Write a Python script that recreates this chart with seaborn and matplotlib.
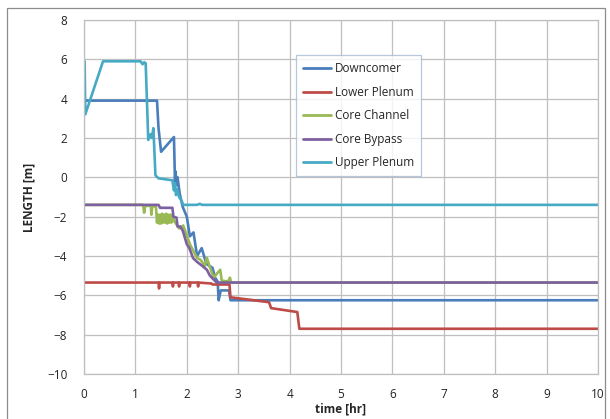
import matplotlib
matplotlib.use("Agg")
import numpy as np
import pandas as pd
import seaborn as sns
from matplotlib import pyplot as plt
from matplotlib.patches import Rectangle

# values (time in hr, length in m)
series_names = ['Downcomer', 'Lower Plenum', 'Core Channel', 'Core Bypass', 'Upper Plenum']
colors = ['#4A7EBB', '#BE4B48', '#98B954', '#7D60A0', '#46AAC5']

dc_t = [0, 1.42, 1.45, 1.5, 1.75, 1.77, 1.78, 1.8, 1.82, 1.86, 1.92, 2.0, 2.06, 2.13, 2.2,
        2.29, 2.38, 2.5, 2.55, 2.6, 2.62, 2.66, 2.82, 2.85, 10]
dc_y = [3.9, 3.9, 2.5, 1.3, 2.05, -0.2, 0.3, -0.4, 0.0, -0.8, -1.5, -2.0, -3.0, -2.8, -4.0,
        -3.6, -4.4, -4.6, -5.1, -5.3, -6.25, -5.75, -5.75, -6.25, -6.25]

lp_t = [0, 1.45, 1.46, 1.47, 1.72, 1.73, 1.74, 1.84, 1.85, 1.86, 2.05, 2.06, 2.07, 2.21, 2.22,
        2.23, 2.48, 2.5, 2.83, 2.85, 3.6, 3.64, 4.15, 4.19, 10]
lp_y = [-5.35, -5.35, -5.65, -5.35, -5.35, -5.55, -5.35, -5.35, -5.55, -5.35, -5.35, -5.55,
        -5.35, -5.35, -5.55, -5.35, -5.4, -5.45, -5.45, -6.1, -6.35, -6.65, -6.85, -7.7, -7.7]

cc_t = [0, 1.15, 1.17, 1.19, 1.3, 1.31, 1.33, 1.4, 1.42, 1.44, 1.46, 1.48, 1.5, 1.52, 1.54,
        1.56, 1.58, 1.6, 1.62, 1.64, 1.66, 1.68, 1.7, 1.72, 1.75, 1.8, 1.85, 1.93, 2.06, 2.2,
        2.27, 2.35, 2.39, 2.52, 2.65, 2.68, 2.8, 2.84, 2.86, 10]
cc_y = [-1.4, -1.4, -1.8, -1.45, -1.45, -1.9, -1.45, -1.5, -2.3, -1.9, -2.35, -1.9, -2.35,
        -1.85, -2.3, -1.9, -2.3, -1.85, -2.35, -1.9, -2.3, -1.9, -2.3, -1.9, -2.2, -2.4, -2.6,
        -2.45, -3.4, -4.1, -4.2, -4.5, -4.1, -5.1, -4.7, -5.25, -5.3, -5.1, -5.35, -5.35]

cb_t = [0, 1.45, 1.48, 1.72, 1.74, 1.8, 1.82, 1.87, 1.92, 2.0, 2.05, 2.12, 2.2, 2.3, 2.39,
        2.45, 2.58, 10]
cb_y = [-1.4, -1.4, -1.55, -1.55, -2.0, -2.05, -2.5, -2.5, -2.7, -3.4, -3.6, -4.1, -4.3,
        -4.5, -4.7, -5.0, -5.35, -5.35]

up_t = [0.012, 0.025, 0.37, 1.1, 1.14, 1.17, 1.2, 1.25, 1.3, 1.32, 1.35, 1.39, 1.45, 1.72, 1.75,
        1.77, 1.79, 1.81, 1.85, 1.9, 1.93, 2.2, 2.25, 2.3, 10]
up_y = [5.9, 3.2, 5.9, 5.9, 5.75, 5.85, 5.8, 1.9, 2.2, 2.0, 2.5, 0.1, -0.05, -0.15, -0.66,
        -0.3, -0.9, -0.6, -1.0, -1.2, -1.4, -1.4, -1.35, -1.4, -1.4]

x_ticks = list(range(0, 11))
y_ticks = list(range(-10, 9, 2))

frames = []
for name, t, y in zip(series_names,
                      [dc_t, lp_t, cc_t, cb_t, up_t],
                      [dc_y, lp_y, cc_y, cb_y, up_y]):
    frames.append(pd.DataFrame({'time': t, 'length': y, 'series': name}))
df = pd.concat(frames, ignore_index=True)

sns.set_style('white')
plt.rcParams['font.family'] = ['Open Sans', 'DejaVu Sans']

fig = plt.figure(figsize=(6.1, 4.19), dpi=100)
ax = fig.add_axes([84 / 610, 1 - 374 / 419, 514 / 610, 354 / 419])

sns.lineplot(data=df, x='time', y='length', hue='series', hue_order=series_names,
             palette=colors, estimator=None, sort=False, lw=1.9, ax=ax)

ax.set_xlim(0, 10)
ax.set_ylim(-10, 8)
ax.set_xticks(x_ticks)
ax.set_yticks(y_ticks)
ax.grid(True, color='#BFBFBF', lw=0.9)
ax.set_axisbelow(True)
for s in ax.spines.values():
    s.set_color('#BFBFBF')
    s.set_linewidth(0.9)
ax.tick_params(axis='both', length=4, width=0.9, color='#A6A6A6', labelsize=8.5,
               labelcolor='#222222', direction='out')
ax.tick_params(axis='y', pad=8)
ax.tick_params(axis='x', pad=6)
ax.set_xlabel('time [hr]', fontsize=8.5, fontweight='bold', labelpad=1)
ax.set_ylabel('LENGTH [m]', fontsize=8.5, fontweight='bold', labelpad=8)

leg = ax.legend(loc='upper left', bbox_to_anchor=(0.412, 0.90), fontsize=8.5,
                handlelength=2.4, frameon=True, fancybox=False, borderpad=0.6,
                labelspacing=0.88, handletextpad=0.3, borderaxespad=0)
leg.get_frame().set_edgecolor('#A7B9D1')
leg.get_frame().set_linewidth(0.9)
for line in leg.get_lines():
    line.set_linewidth(2.0)

fig.patches.append(Rectangle((7 / 610, -0.02), 598 / 610, 1.02 - 8 / 419,
                             transform=fig.transFigure, fill=False,
                             edgecolor='#8C8C8C', lw=0.9))

fig.savefig('out.png', dpi=100)
